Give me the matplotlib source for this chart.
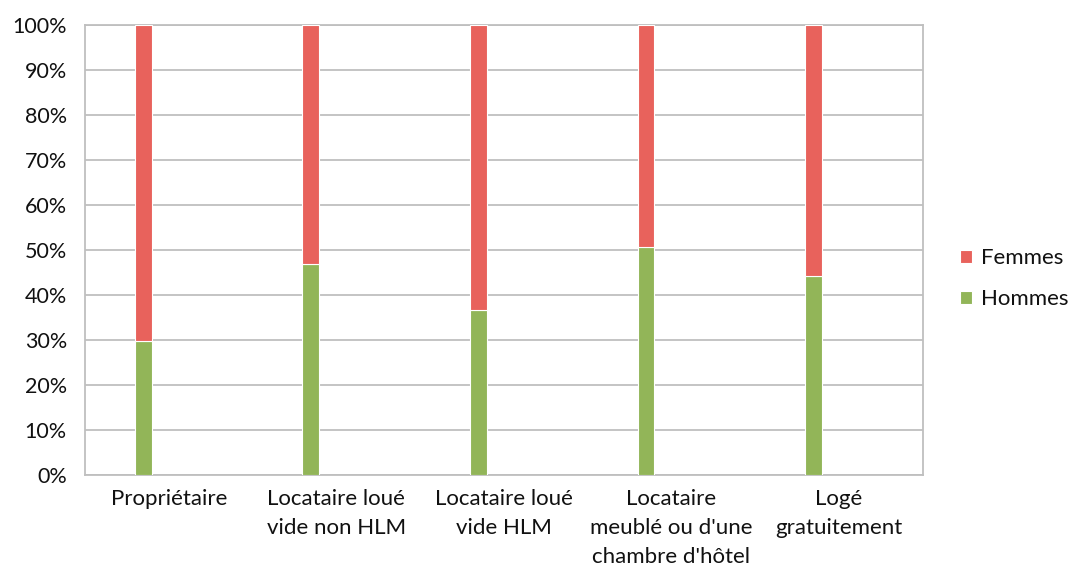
import numpy as np
import matplotlib.pyplot as plt

# Data (share of each group, %)
categories = ["Propriétaire",
              "Locataire loué\nvide non HLM",
              "Locataire loué\nvide HLM",
              "Locataire\nmeublé ou d'une\nchambre d'hôtel",
              "Logé\ngratuitement"]
hommes = [29.8, 46.8, 36.7, 50.7, 44.3]
femmes = [100 - h for h in hommes]

plt.rcParams['font.family'] = ['Lato', 'DejaVu Sans']

fig = plt.figure(figsize=(10.77, 5.71), dpi=100)
ax = fig.add_axes([0.0789, 0.1681, 0.7778, 0.7881])

x = np.arange(len(categories))
xb = x - 0.152  # bars sit left of the category centre
w = 0.10
green = '#92B558'
red = '#E8625C'

ax.bar(xb, hommes, w, color=green, edgecolor='white', linewidth=0.8,
       label='Hommes', zorder=3)
ax.bar(xb, femmes, w, bottom=hommes, color=red, edgecolor='white',
       linewidth=0.8, label='Femmes', zorder=3)

ax.set_xlim(-0.5, len(categories) - 0.5)
ax.set_ylim(0, 100)
ax.set_yticks(np.arange(0, 101, 10))
ax.set_yticklabels([f"{v}%" for v in range(0, 101, 10)])
ax.set_xticks(x)
ax.set_xticklabels(categories, linespacing=1.55)
ax.tick_params(axis='y', length=0, pad=13, labelsize=15.5, colors='#111111')
ax.tick_params(axis='x', length=0, pad=10, labelsize=16, colors='#111111')
ax.grid(axis='y', color='#BFBFBF', linewidth=1.3, zorder=0)
for s in ax.spines.values():
    s.set_color('#BFBFBF')
    s.set_linewidth(1.3)

handles, labels = ax.get_legend_handles_labels()
fig.legend(handles[::-1], labels[::-1], loc='center left',
           bbox_to_anchor=(0.891, 0.512), frameon=False, fontsize=16,
           handlelength=0.55, handleheight=0.55, handletextpad=0.4,
           borderpad=0, borderaxespad=0,
           labelspacing=0.95, labelcolor='#111111')

fig.savefig('out.png', dpi=100)
